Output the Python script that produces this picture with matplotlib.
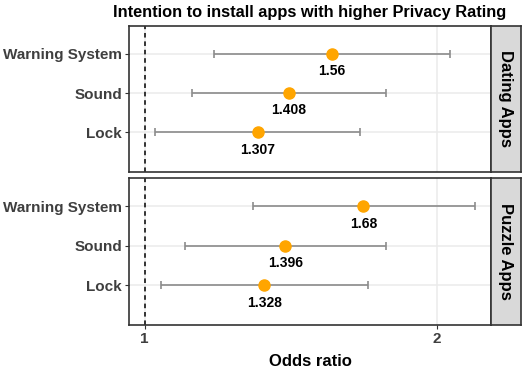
import matplotlib.pyplot as plt
import numpy as np

plt.rcParams['font.family'] = ['Liberation Sans', 'DejaVu Sans']
plt.rcParams['font.weight'] = 'bold'

categories = ['Lock', 'Sound', 'Warning System']
panels = ['Dating Apps', 'Puzzle Apps']
odds = {'Dating Apps': [1.307, 1.408, 1.56],
        'Puzzle Apps': [1.328, 1.396, 1.68]}
lower = {'Dating Apps': [1.025, 1.120, 1.178],
         'Puzzle Apps': [1.039, 1.100, 1.294]}
upper = {'Dating Apps': [1.668, 1.774, 2.061],
         'Puzzle Apps': [1.697, 1.772, 2.189]}
xticks = [1, 2]

W, H = 529, 368
fig = plt.figure(figsize=(W / 100, H / 100), dpi=100)

def rect(l, t, r, b):
    return [l / W, (H - b) / H, (r - l) / W, (b - t) / H]

boxes = [(129, 25.5, 491, 171.5), (129, 178, 491, 325)]
dark = '#333333'
grid = '#EBEBEB'

for i, name in enumerate(panels):
    l, t, r, b = boxes[i]
    ax = fig.add_axes(rect(l, t, r, b))
    ypos = np.arange(1, len(categories) + 1)
    o = np.array(odds[name])
    lo = np.array(lower[name])
    hi = np.array(upper[name])
    ax.set_xscale('log')
    ax.set_xlim(0.9635, 2.273)
    ax.set_ylim(0, 3.72)
    for xv in xticks:
        ax.axvline(xv, color=grid, lw=1.1, zorder=0)
    for yv in ypos:
        ax.axhline(yv, color=grid, lw=1.1, zorder=0)
    ax.axvline(1, color='black', lw=1.1, ls=(0, (3, 2.5)), zorder=1)
    ax.errorbar(o, ypos, xerr=[o - lo, hi - o], fmt='none', ecolor='#8C8C8C',
                elinewidth=1.2, capsize=3, capthick=1.2, zorder=2)
    ax.plot(o, ypos, 'o', color='#FFA500', markersize=8, zorder=3)
    for xv, yv in zip(o, ypos):
        ax.annotate(f'{xv:g}', (xv, yv), xytext=(0, -12.5), textcoords='offset points',
                    ha='center', va='center', fontsize=10, fontweight='bold', color='black')
    ax.set_yticks(ypos)
    ax.set_yticklabels(categories, fontsize=11, fontweight='bold', color='#3F3F3F')
    ax.xaxis.set_minor_locator(plt.NullLocator())
    ax.set_xticks(xticks)
    if i == 1:
        ax.set_xticklabels([str(x) for x in xticks], fontsize=11, fontweight='bold', color='#3F3F3F')
        ax.set_xlabel('Odds ratio', fontsize=12, fontweight='bold', labelpad=6)
    else:
        ax.set_xticklabels([])
        ax.set_title('Intention to install apps with higher Privacy Rating',
                     fontsize=11.8, fontweight='bold', pad=6)
    ax.tick_params(axis='both', length=3, width=0.8, color='#333333', pad=2)
    if i == 0:
        ax.tick_params(axis='x', length=0)
    for s in ax.spines.values():
        s.set_color(dark)
        s.set_linewidth(1.2)

    sax = fig.add_axes(rect(r, t, 521, b))
    sax.set_facecolor('#D9D9D9')
    sax.set_xticks([])
    sax.set_yticks([])
    for s in sax.spines.values():
        s.set_color(dark)
        s.set_linewidth(1.2)
    sax.text(0.5, 0.5, name, rotation=-90, ha='center', va='center',
             fontsize=12, fontweight='bold', color='black', transform=sax.transAxes)

fig.savefig('out.png', dpi=100)
